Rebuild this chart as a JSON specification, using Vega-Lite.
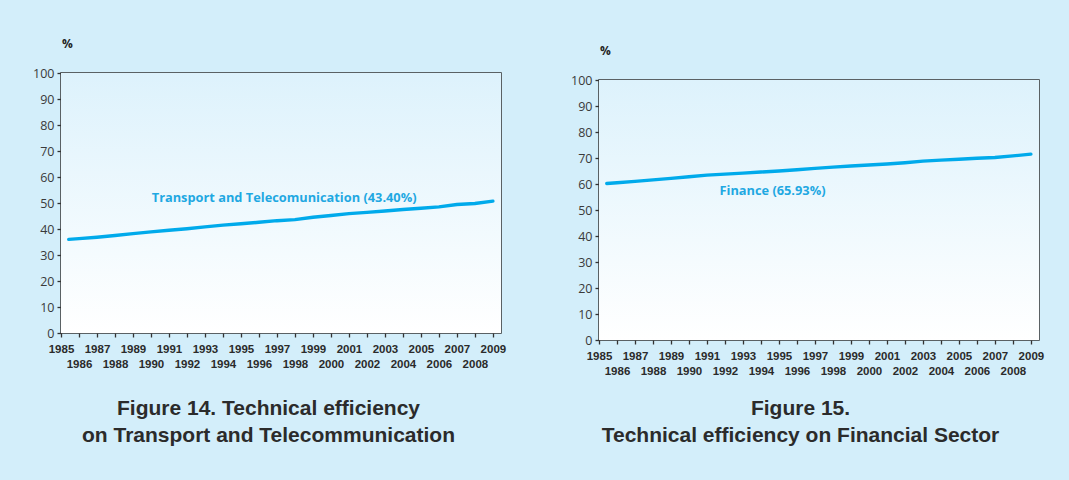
{
  "$schema": "https://vega.github.io/schema/vega-lite/v6.json",
  "background": "#d3eefa",
  "padding": {"left": 31, "top": 36, "right": 27, "bottom": 35},
  "spacing": 62,
  "datasets": {
    "transport": [
      {"year": 1985.43, "efficiency": 36.0},
      {"year": 1986, "efficiency": 36.3},
      {"year": 1987, "efficiency": 36.85},
      {"year": 1988, "efficiency": 37.5},
      {"year": 1989, "efficiency": 38.2},
      {"year": 1990, "efficiency": 38.9},
      {"year": 1991, "efficiency": 39.5},
      {"year": 1992, "efficiency": 40.1},
      {"year": 1993, "efficiency": 40.8},
      {"year": 1994, "efficiency": 41.5},
      {"year": 1995, "efficiency": 42.0},
      {"year": 1996, "efficiency": 42.6},
      {"year": 1997, "efficiency": 43.2},
      {"year": 1998, "efficiency": 43.6},
      {"year": 1999, "efficiency": 44.5},
      {"year": 2000, "efficiency": 45.2},
      {"year": 2001, "efficiency": 45.9},
      {"year": 2002, "efficiency": 46.4},
      {"year": 2003, "efficiency": 46.9},
      {"year": 2004, "efficiency": 47.5},
      {"year": 2005, "efficiency": 48.0},
      {"year": 2006, "efficiency": 48.5},
      {"year": 2007, "efficiency": 49.4},
      {"year": 2008, "efficiency": 49.8},
      {"year": 2009, "efficiency": 50.7}
    ],
    "finance": [
      {"year": 1985.43, "efficiency": 60.2},
      {"year": 1986, "efficiency": 60.5},
      {"year": 1987, "efficiency": 61.0},
      {"year": 1988, "efficiency": 61.6},
      {"year": 1989, "efficiency": 62.15},
      {"year": 1990, "efficiency": 62.8},
      {"year": 1991, "efficiency": 63.4},
      {"year": 1992, "efficiency": 63.8},
      {"year": 1993, "efficiency": 64.2},
      {"year": 1994, "efficiency": 64.6},
      {"year": 1995, "efficiency": 65.0},
      {"year": 1996, "efficiency": 65.5},
      {"year": 1997, "efficiency": 66.0},
      {"year": 1998, "efficiency": 66.5},
      {"year": 1999, "efficiency": 66.9},
      {"year": 2000, "efficiency": 67.3},
      {"year": 2001, "efficiency": 67.7},
      {"year": 2002, "efficiency": 68.2},
      {"year": 2003, "efficiency": 68.8},
      {"year": 2004, "efficiency": 69.2},
      {"year": 2005, "efficiency": 69.5},
      {"year": 2006, "efficiency": 69.9},
      {"year": 2007, "efficiency": 70.2},
      {"year": 2008, "efficiency": 70.8},
      {"year": 2009, "efficiency": 71.5}
    ]
  },
  "hconcat": [
    {
      "spacing": 0,
      "vconcat": [
        {"width": 440, "height": 1, "view": {"stroke": null}, "data": {"values": []}, "mark": {"type": "rule", "opacity": 0}, "encoding": {}},
        {
          "width": 440,
          "height": 260,
          "title": {"text": "%", "anchor": "start", "frame": "group", "orient": "top", "offset": 16, "dx": 1},
          "layer": [
            {
              "data": {"values": [{}]},
              "mark": {"type": "rect", "strokeWidth": 0, "color": {"gradient": "linear", "x1": 0, "y1": 0, "x2": 0, "y2": 1, "stops": [{"offset": 0, "color": "#ddf2fc"}, {"offset": 1, "color": "#ffffff"}]}},
              "encoding": {
                "x": {"datum": 1985, "type": "quantitative", "scale": {"domain": [1985, 2009.45], "nice": false, "zero": false},
                  "axis": {"values": [1985,1986,1987,1988,1989,1990,1991,1992,1993,1994,1995,1996,1997,1998,1999,2000,2001,2002,2003,2004,2005,2006,2007,2008,2009], "format": "d", "labelExpr": "datum.value % 2 == 0 ? ['', datum.label] : datum.label", "title": ["Figure 14. Technical efficiency", "on Transport and Telecommunication"], "titleX": 207, "titleAlign": "center", "titlePadding": 28}},
                "x2": {"datum": 2009.45},
                "y": {"datum": 0, "type": "quantitative", "scale": {"domain": [0, 100], "nice": false},
                  "axis": {"values": [0,10,20,30,40,50,60,70,80,90,100], "title": null}},
                "y2": {"datum": 100}
              }
            },
            {
              "data": {"name": "transport"},
              "mark": {"type": "line", "color": "#00aaeb", "strokeWidth": 3.4, "strokeCap": "round"},
              "encoding": {
                "x": {"field": "year", "type": "quantitative", "scale": {"domain": [1985, 2009.45], "nice": false, "zero": false},
                  "axis": {"values": [1985,1986,1987,1988,1989,1990,1991,1992,1993,1994,1995,1996,1997,1998,1999,2000,2001,2002,2003,2004,2005,2006,2007,2008,2009], "format": "d", "labelExpr": "datum.value % 2 == 0 ? ['', datum.label] : datum.label", "title": ["Figure 14. Technical efficiency", "on Transport and Telecommunication"], "titleX": 207, "titleAlign": "center", "titlePadding": 28}},
                "y": {"field": "efficiency", "type": "quantitative", "scale": {"domain": [0, 100], "nice": false},
                  "axis": {"values": [0,10,20,30,40,50,60,70,80,90,100], "title": null}}
              }
            },
            {
              "data": {"values": [{}]},
              "mark": {"type": "text", "text": "Transport and Telecomunication (43.40%)", "color": "#1fa8e2", "font": "Open Sans", "fontWeight": "bold", "fontSize": 12.8, "align": "center", "baseline": "middle"},
              "encoding": {
                "x": {"datum": 1997.4, "type": "quantitative", "scale": {"domain": [1985, 2009.45], "nice": false, "zero": false},
                  "axis": {"values": [1985,1986,1987,1988,1989,1990,1991,1992,1993,1994,1995,1996,1997,1998,1999,2000,2001,2002,2003,2004,2005,2006,2007,2008,2009], "format": "d", "labelExpr": "datum.value % 2 == 0 ? ['', datum.label] : datum.label", "title": ["Figure 14. Technical efficiency", "on Transport and Telecommunication"], "titleX": 207, "titleAlign": "center", "titlePadding": 28}},
                "y": {"datum": 51.8, "type": "quantitative", "scale": {"domain": [0, 100], "nice": false},
                  "axis": {"values": [0,10,20,30,40,50,60,70,80,90,100], "title": null}}
              }
            }
          ]
        }
      ]
    },
    {
      "spacing": 0,
      "vconcat": [
        {"width": 440, "height": 8, "view": {"stroke": null}, "data": {"values": []}, "mark": {"type": "rule", "opacity": 0}, "encoding": {}},
        {
          "width": 440,
          "height": 260,
          "title": {"text": "%", "anchor": "start", "frame": "group", "orient": "top", "offset": 16, "dx": 1},
          "layer": [
            {
              "data": {"values": [{}]},
              "mark": {"type": "rect", "strokeWidth": 0, "color": {"gradient": "linear", "x1": 0, "y1": 0, "x2": 0, "y2": 1, "stops": [{"offset": 0, "color": "#ddf2fc"}, {"offset": 1, "color": "#ffffff"}]}},
              "encoding": {
                "x": {"datum": 1985, "type": "quantitative", "scale": {"domain": [1985, 2009.45], "nice": false, "zero": false},
                  "axis": {"values": [1985,1986,1987,1988,1989,1990,1991,1992,1993,1994,1995,1996,1997,1998,1999,2000,2001,2002,2003,2004,2005,2006,2007,2008,2009], "format": "d", "labelExpr": "datum.value % 2 == 0 ? ['', datum.label] : datum.label", "title": ["Figure 15.", "Technical efficiency on Financial Sector"], "titleX": 201, "titleAlign": "center", "titlePadding": 21}},
                "x2": {"datum": 2009.45},
                "y": {"datum": 0, "type": "quantitative", "scale": {"domain": [0, 100], "nice": false},
                  "axis": {"values": [0,10,20,30,40,50,60,70,80,90,100], "title": null}},
                "y2": {"datum": 100}
              }
            },
            {
              "data": {"name": "finance"},
              "mark": {"type": "line", "color": "#00aaeb", "strokeWidth": 3.4, "strokeCap": "round"},
              "encoding": {
                "x": {"field": "year", "type": "quantitative", "scale": {"domain": [1985, 2009.45], "nice": false, "zero": false},
                  "axis": {"values": [1985,1986,1987,1988,1989,1990,1991,1992,1993,1994,1995,1996,1997,1998,1999,2000,2001,2002,2003,2004,2005,2006,2007,2008,2009], "format": "d", "labelExpr": "datum.value % 2 == 0 ? ['', datum.label] : datum.label", "title": ["Figure 15.", "Technical efficiency on Financial Sector"], "titleX": 201, "titleAlign": "center", "titlePadding": 21}},
                "y": {"field": "efficiency", "type": "quantitative", "scale": {"domain": [0, 100], "nice": false},
                  "axis": {"values": [0,10,20,30,40,50,60,70,80,90,100], "title": null}}
              }
            },
            {
              "data": {"values": [{}]},
              "mark": {"type": "text", "text": "Finance (65.93%)", "color": "#1fa8e2", "font": "Open Sans", "fontWeight": "bold", "fontSize": 12.8, "align": "center", "baseline": "middle"},
              "encoding": {
                "x": {"datum": 1994.64, "type": "quantitative", "scale": {"domain": [1985, 2009.45], "nice": false, "zero": false},
                  "axis": {"values": [1985,1986,1987,1988,1989,1990,1991,1992,1993,1994,1995,1996,1997,1998,1999,2000,2001,2002,2003,2004,2005,2006,2007,2008,2009], "format": "d", "labelExpr": "datum.value % 2 == 0 ? ['', datum.label] : datum.label", "title": ["Figure 15.", "Technical efficiency on Financial Sector"], "titleX": 201, "titleAlign": "center", "titlePadding": 21}},
                "y": {"datum": 57.4, "type": "quantitative", "scale": {"domain": [0, 100], "nice": false},
                  "axis": {"values": [0,10,20,30,40,50,60,70,80,90,100], "title": null}}
              }
            }
          ]
        }
      ]
    }
  ],
  "config": {
    "view": {"stroke": "#333333", "strokeWidth": 1.5},
    "title": {"font": "Open Sans", "fontSize": 12, "fontWeight": "bold", "color": "#222222"},
    "axis": {"grid": false, "domain": false, "tickColor": "#333333", "tickWidth": 1.3, "tickSize": 4},
    "axisX": {
      "labelFont": "Liberation Sans",
      "labelFontSize": 11.5,
      "labelFontWeight": "bold",
      "labelColor": "#2b2b2b",
      "labelLineHeight": 15,
      "labelPadding": 6,
      "labelOverlap": false,
      "labelFlush": false,
      "labelBound": false,
      "titleFont": "Liberation Sans",
      "titleFontSize": 21,
      "titleFontWeight": "bold",
      "titleColor": "#2b2b2b",
      "titleLineHeight": 27
    },
    "axisY": {"labelFont": "Open Sans", "labelFontSize": 12.5, "labelColor": "#3a3a3a", "labelPadding": 3}
  }
}
